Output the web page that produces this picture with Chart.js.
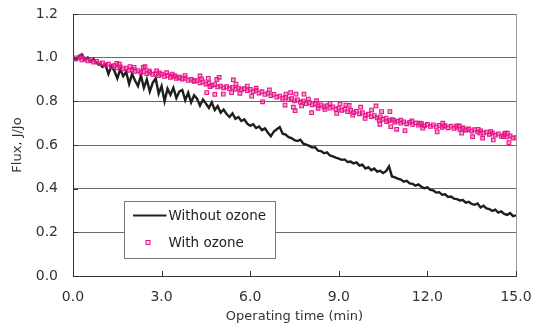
<!DOCTYPE html>
<html>
<head>
<meta charset="utf-8">
<script src="https://cdn.jsdelivr.net/npm/chart.js@4"></script>
<style>
  html, body { margin: 0; padding: 0; background: #fff; }
  #wrap { width: 538px; height: 324px; position: relative; }
</style>
</head>
<body>
<div id="wrap"><canvas id="c" width="538" height="324"></canvas></div>
<script>
// ---- data ----
const seriesNames = ['Without ozone', 'With ozone'];
const xTickValues = [0, 3, 6, 9, 12, 15];
const yTickValues = [0, 0.2, 0.4, 0.6, 0.8, 1.0, 1.2];
const sampleStep = 0.1; // minutes between samples of the regular series

// Without ozone: flux at t = 0, 0.1, ... 15.0 min
const withoutOzone = [
  1.000, 0.990, 1.008, 1.015, 0.992, 1.000, 0.982, 0.993, 0.975, 0.970,
  0.958, 0.968, 0.925, 0.962, 0.940, 0.905, 0.948, 0.915, 0.935, 0.880,
  0.925, 0.895, 0.870, 0.918, 0.862, 0.900, 0.845, 0.885, 0.905, 0.835,
  0.870, 0.800, 0.858, 0.830, 0.862, 0.815, 0.845, 0.852, 0.805, 0.840,
  0.795, 0.828, 0.812, 0.780, 0.808, 0.790, 0.770, 0.795, 0.760, 0.778,
  0.748, 0.762, 0.742, 0.728, 0.745, 0.720, 0.728, 0.710, 0.718, 0.698,
  0.688, 0.695, 0.678, 0.685, 0.668, 0.676, 0.656, 0.640, 0.662, 0.672,
  0.682, 0.652, 0.648, 0.636, 0.632, 0.622, 0.618, 0.624, 0.606, 0.602,
  0.596, 0.588, 0.590, 0.574, 0.572, 0.562, 0.566, 0.552, 0.548, 0.542,
  0.538, 0.532, 0.534, 0.522, 0.524, 0.516, 0.520, 0.506, 0.510, 0.492,
  0.498, 0.484, 0.492, 0.478, 0.482, 0.472, 0.480, 0.502, 0.456, 0.452,
  0.446, 0.442, 0.432, 0.436, 0.424, 0.422, 0.414, 0.420, 0.408, 0.402,
  0.406, 0.394, 0.392, 0.382, 0.384, 0.372, 0.374, 0.362, 0.364, 0.354,
  0.352, 0.346, 0.348, 0.336, 0.340, 0.330, 0.326, 0.332, 0.314, 0.322,
  0.310, 0.306, 0.298, 0.304, 0.290, 0.296, 0.284, 0.280, 0.288, 0.274,
  0.278
];

// With ozone: main band at t = 0, 0.1, ... 15.0 min
const withOzoneBand = [
  1.000, 0.994, 0.999, 0.990, 0.993, 0.985, 0.990, 0.980, 0.983, 0.973,
  0.976, 0.967, 0.970, 0.960, 0.964, 0.953, 0.958, 0.949, 0.952, 0.942,
  0.946, 0.937, 0.941, 0.932, 0.936, 0.927, 0.932, 0.923, 0.927, 0.918,
  0.924, 0.914, 0.919, 0.910, 0.915, 0.905, 0.911, 0.902, 0.906, 0.896,
  0.901, 0.891, 0.895, 0.885, 0.889, 0.879, 0.884, 0.873, 0.877, 0.866,
  0.870, 0.862, 0.867, 0.858, 0.864, 0.855, 0.861, 0.853, 0.858, 0.849,
  0.855, 0.844, 0.850, 0.838, 0.844, 0.832, 0.838, 0.826, 0.832, 0.819,
  0.824, 0.814, 0.818, 0.808, 0.812, 0.802, 0.807, 0.796, 0.801, 0.789,
  0.794, 0.784, 0.789, 0.779, 0.784, 0.774, 0.780, 0.769, 0.775, 0.764,
  0.769, 0.759, 0.764, 0.753, 0.759, 0.748, 0.754, 0.743, 0.748, 0.736,
  0.741, 0.730, 0.735, 0.724, 0.729, 0.718, 0.723, 0.712, 0.716, 0.705,
  0.709, 0.700, 0.706, 0.697, 0.704, 0.694, 0.701, 0.691, 0.698, 0.688,
  0.694, 0.685, 0.692, 0.683, 0.690, 0.681, 0.688, 0.679, 0.686, 0.676,
  0.682, 0.672, 0.678, 0.668, 0.674, 0.664, 0.670, 0.660, 0.665, 0.654,
  0.659, 0.649, 0.655, 0.645, 0.651, 0.641, 0.647, 0.637, 0.642, 0.632,
  0.634
];

// With ozone: scattered readings off the band
const withOzoneScatterTimes = [
  0.29, 1.48, 1.57, 1.93, 2.07, 2.38, 2.44, 2.58, 2.83, 2.92,
  3.17, 3.36, 3.45, 3.60, 3.79, 4.10, 4.30, 4.35, 4.53, 4.58,
  4.64, 4.80, 4.87, 4.95, 5.09, 5.37, 5.43, 5.52, 5.65, 5.90,
  6.05, 6.20, 6.42, 6.65, 7.18, 7.21, 7.37, 7.46, 7.52, 7.55,
  7.74, 7.82, 7.97, 8.08, 8.25, 8.30, 8.53, 8.70, 8.93, 9.04,
  9.24, 9.35, 9.47, 9.74, 9.89, 10.11, 10.26, 10.37, 10.39, 10.45,
  10.62, 10.73, 10.76, 10.85, 10.96, 11.10, 11.24, 11.47, 11.75, 11.84,
  12.33, 12.52, 12.57, 12.99, 13.08, 13.16, 13.20, 13.30, 13.40, 13.53,
  13.72, 13.78, 13.87, 14.14, 14.23, 14.57, 14.63, 14.71, 14.76
];
const withOzoneScatterValues = [
  1.005, 0.974, 0.970, 0.959, 0.956, 0.955, 0.959, 0.940, 0.940, 0.930,
  0.931, 0.925, 0.916, 0.908, 0.918, 0.895, 0.916, 0.903, 0.840, 0.905,
  0.867, 0.832, 0.900, 0.910, 0.833, 0.840, 0.898, 0.879, 0.837, 0.870,
  0.824, 0.860, 0.798, 0.852, 0.783, 0.833, 0.840, 0.773, 0.757, 0.833,
  0.779, 0.833, 0.810, 0.748, 0.803, 0.768, 0.763, 0.790, 0.745, 0.788,
  0.783, 0.781, 0.737, 0.773, 0.722, 0.760, 0.779, 0.714, 0.695, 0.753,
  0.707, 0.753, 0.684, 0.714, 0.672, 0.714, 0.666, 0.710, 0.700, 0.677,
  0.660, 0.700, 0.688, 0.687, 0.687, 0.654, 0.677, 0.669, 0.672, 0.638,
  0.672, 0.654, 0.631, 0.661, 0.623, 0.638, 0.654, 0.654, 0.611
];

// ---- build ----
const PINK = '#e8168a';
const FONT = 'DejaVu Sans';

const blackPts = withoutOzone.map((v, i) => ({ x: +(i * sampleStep).toFixed(2), y: v }));
const pinkPts = withOzoneBand.map((v, i) => ({ x: +(i * sampleStep).toFixed(2), y: v }))
  .concat(withOzoneScatterTimes.map((t, i) => ({ x: t, y: withOzoneScatterValues[i] })));

const decorPlugin = {
  id: 'decor',
  afterDraw(chart) {
    const { ctx, chartArea: a, scales } = chart;
    const xs = scales.x, ys = scales.y;
    ctx.save();
    // inward tick marks
    ctx.strokeStyle = '#333';
    ctx.lineWidth = 1;
    ctx.beginPath();
    xTickValues.forEach(v => {
      const px = Math.round(xs.getPixelForValue(v)) + 0.5;
      ctx.moveTo(px, a.bottom);
      ctx.lineTo(px, a.bottom - 5);
    });
    yTickValues.forEach(v => {
      const py = Math.round(ys.getPixelForValue(v)) + 0.5;
      ctx.moveTo(a.left, py);
      ctx.lineTo(a.left + 5, py);
    });
    ctx.stroke();

    // legend box
    const bx = a.left + 51.5, by = a.top + 187.5, bw = 151, bh = 57;
    ctx.fillStyle = '#fff';
    ctx.fillRect(bx, by, bw, bh);
    ctx.strokeStyle = '#777';
    ctx.lineWidth = 1;
    ctx.strokeRect(bx, by, bw, bh);

    ctx.font = '13.5px "' + FONT + '"';
    ctx.textBaseline = 'middle';
    ctx.textAlign = 'left';
    ctx.fillStyle = '#222';
    // line sample
    ctx.strokeStyle = '#222';
    ctx.lineWidth = 2;
    ctx.beginPath();
    ctx.moveTo(bx + 8.5, by + 14);
    ctx.lineTo(bx + 42, by + 14);
    ctx.stroke();
    ctx.fillText(seriesNames[0], bx + 44, by + 14.5);
    // marker sample
    ctx.strokeStyle = PINK;
    ctx.lineWidth = 1;
    ctx.fillStyle = 'rgba(255,190,225,0.6)';
    ctx.fillRect(bx + 21.5, by + 39, 4, 4);
    ctx.strokeRect(bx + 21.5, by + 39, 4, 4);
    ctx.fillStyle = '#222';
    ctx.fillText(seriesNames[1], bx + 44, by + 41.5);
    ctx.restore();
  }
};

new Chart(document.getElementById('c'), {
  type: 'scatter',
  data: {
    datasets: [
      {
        label: seriesNames[1],
        data: pinkPts,
        showLine: false,
        pointStyle: 'rect',
        pointRadius: 2.6,
        pointBorderWidth: 1.1,
        pointBorderColor: PINK,
        pointBackgroundColor: 'rgba(236,50,150,0.42)',
        pointHoverRadius: 2.6
      },
      {
        label: seriesNames[0],
        data: blackPts,
        showLine: true,
        borderColor: '#1e1e1e',
        borderWidth: 2.4,
        pointRadius: 0,
        pointHoverRadius: 0,
        tension: 0
      }
    ]
  },
  options: {
    responsive: false,
    animation: false,
    events: [],
    layout: { padding: { left: 0, right: 22, top: 14, bottom: 0 } },
    plugins: { legend: { display: false }, tooltip: { enabled: false } },
    scales: {
      x: {
        type: 'linear',
        min: 0, max: 15,
        afterBuildTicks: s => { s.ticks = xTickValues.map(v => ({ value: v })); },
        afterFit: s => { s.height = 48; s.paddingLeft = 0; s.paddingRight = 0; },
        ticks: {
          font: { family: FONT, size: 14 },
          color: '#333',
          padding: 13,
          maxRotation: 0,
          callback: v => Number(v).toFixed(1)
        },
        grid: {
          drawTicks: false,
          color: c => (c.tick && c.tick.value === 15) ? '#9a9a9a' : 'rgba(0,0,0,0)',
          lineWidth: 1
        },
        border: { color: '#333', width: 1 },
        title: {
          display: true,
          text: 'Operating time (min)',
          font: { family: FONT, size: 13 },
          color: '#333',
          padding: { top: 0, bottom: 0 }
        }
      },
      y: {
        type: 'linear',
        min: 0, max: 1.2,
        afterBuildTicks: s => { s.ticks = yTickValues.map(v => ({ value: v })); },
        afterFit: s => { s.width = 73; s.paddingTop = 0; s.paddingBottom = 0; },
        ticks: {
          font: { family: FONT, size: 14 },
          color: '#333',
          padding: 15,
          callback: v => Number(v).toFixed(1)
        },
        grid: { drawTicks: false, color: '#6a6a6a', lineWidth: 1 },
        border: { color: '#333', width: 1 },
        title: {
          display: true,
          text: 'Flux, J/Jo',
          font: { family: FONT, size: 13 },
          color: '#333',
          padding: { top: 10, bottom: 0 }
        }
      }
    }
  },
  plugins: [decorPlugin]
});
</script>
</body>
</html>
